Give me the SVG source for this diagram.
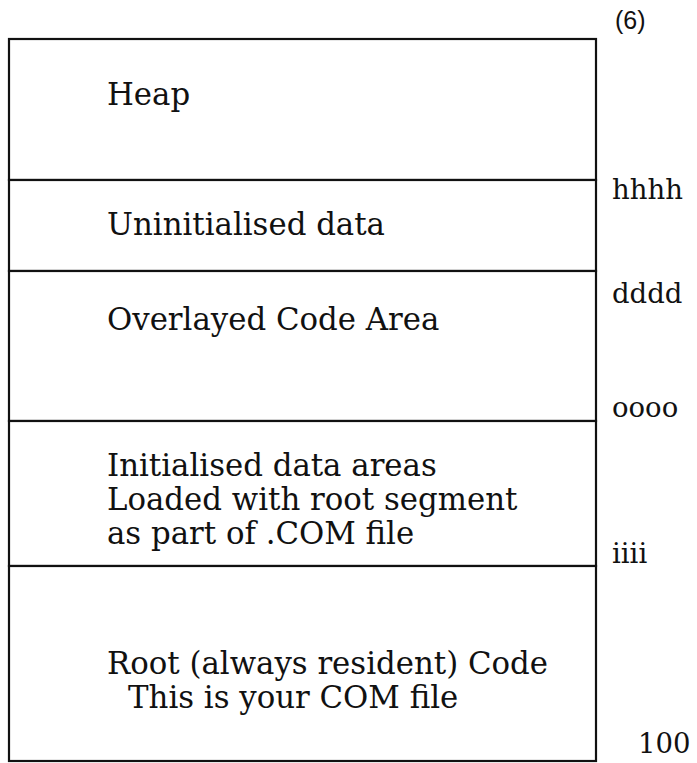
<svg xmlns="http://www.w3.org/2000/svg" width="697" height="763" viewBox="0 0 697 763">
<style>
.b{fill:#fff;stroke:#111;stroke-width:2.2}
.t{font-family:"DejaVu Serif","Liberation Serif",serif;font-size:30.8px;fill:#111}
.a{font-family:"DejaVu Serif","Liberation Serif",serif;font-size:27.5px;fill:#111}
</style>
<rect width="697" height="763" fill="#fff"/>
<g id="heap"><rect class="b" x="9" y="39" width="587" height="141"/><text class="t" x="107" y="105">Heap</text></g>
<g id="uninit"><rect class="b" x="9" y="180" width="587" height="91"/><text class="t" x="107" y="235">Uninitialised data</text></g>
<g id="overlay"><rect class="b" x="9" y="271" width="587" height="150"/><text class="t" x="107" y="330">Overlayed Code Area</text></g>
<g id="init"><rect class="b" x="9" y="421" width="587" height="145"/><text class="t" x="107" y="476">Initialised data areas</text><text class="t" x="107" y="510">Loaded with root segment</text><text class="t" x="107" y="544">as part of .COM file</text></g>
<g id="root"><rect class="b" x="9" y="566" width="587" height="195"/><text class="t" x="107" y="674">Root (always resident) Code</text><text class="t" x="128" y="708">This is your COM file</text></g>
<g id="addresses">
<text x="615" y="29" style="font-family:'Liberation Sans Narrow','Liberation Sans',sans-serif;font-size:25px;fill:#111">(6)</text>
<text class="a" x="612" y="199">hhhh</text>
<text class="a" x="612" y="303">dddd</text>
<text class="a" x="612" y="417">oooo</text>
<text class="a" x="612" y="563">iiii</text>
<text class="a" x="638" y="753">100</text>
</g>
</svg>
